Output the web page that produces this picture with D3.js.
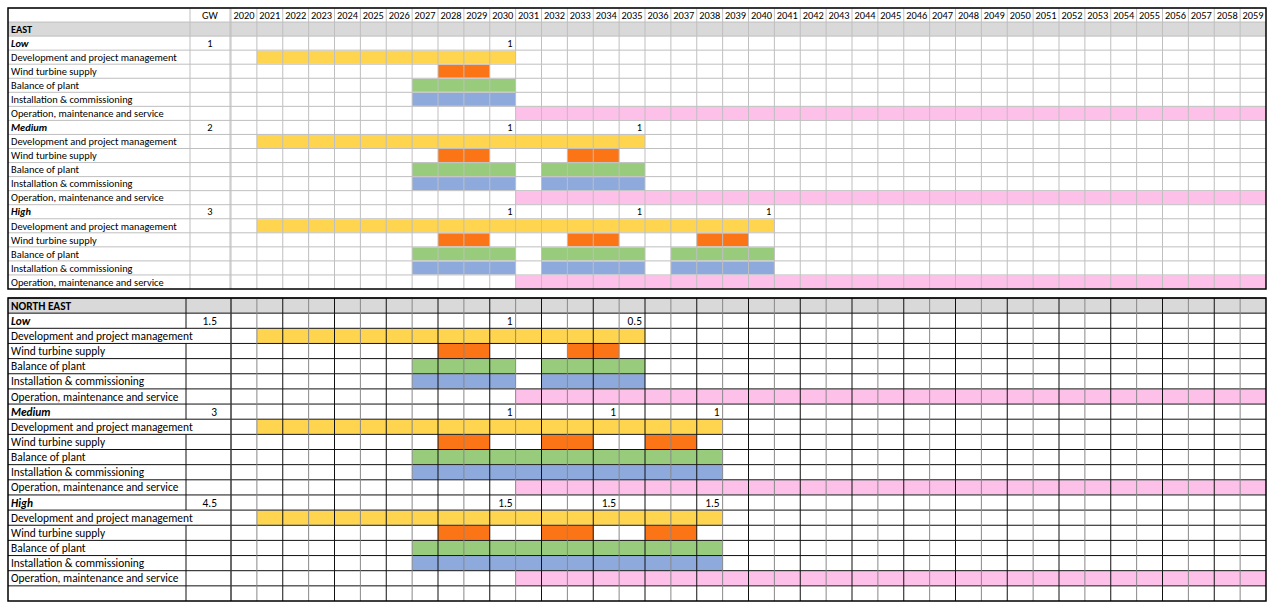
<!DOCTYPE html>
<html><head><meta charset="utf-8">
<script src="https://cdn.jsdelivr.net/npm/d3@7"></script>
<style>body{margin:0;background:#fff}svg text{font-family:Carlito,"Liberation Sans Narrow","Open Sans",sans-serif;fill:#000}</style>
</head><body><svg id="c" width="1274" height="611"></svg>
<script>
// years on the axis
var years = d3.range(2020, 2060);
var activities = ["Development and project management", "Wind turbine supply", "Balance of plant", "Installation & commissioning", "Operation, maintenance and service"];
var actColors = ["#ffd54f", "#fb7416", "#98cc7c", "#8eaadc", "#fdc0e9"];

// [start, end] year spans per activity, per scenario
var eastScen = [
  {name:"Low", gw:"1", marks:[[2030,"1"]],
   spans:[[[2021,2030]],[[2028,2029]],[[2027,2030]],[[2027,2030]],[[2031,2059]]]},
  {name:"Medium", gw:"2", marks:[[2030,"1"],[2035,"1"]],
   spans:[[[2021,2035]],[[2028,2029],[2033,2034]],[[2027,2030],[2032,2035]],[[2027,2030],[2032,2035]],[[2031,2059]]]},
  {name:"High", gw:"3", marks:[[2030,"1"],[2035,"1"],[2040,"1"]],
   spans:[[[2021,2040]],[[2028,2029],[2033,2034],[2038,2039]],[[2027,2030],[2032,2035],[2037,2040]],[[2027,2030],[2032,2035],[2037,2040]],[[2031,2059]]]}
];
var northEastScen = [
  {name:"Low", gw:"1.5", marks:[[2030,"1"],[2035,"0.5"]],
   spans:[[[2021,2035]],[[2028,2029],[2033,2034]],[[2027,2030],[2032,2035]],[[2027,2030],[2032,2035]],[[2031,2059]]]},
  {name:"Medium", gw:"3", marks:[[2030,"1"],[2034,"1"],[2038,"1"]],
   spans:[[[2021,2038]],[[2028,2029],[2032,2033],[2036,2037]],[[2027,2038]],[[2027,2038]],[[2031,2059]]]},
  {name:"High", gw:"4.5", marks:[[2030,"1.5"],[2034,"1.5"],[2038,"1.5"]],
   spans:[[[2021,2038]],[[2028,2029],[2032,2033],[2036,2037]],[[2027,2038]],[[2027,2038]],[[2031,2059]]]}
];

var svg = d3.select("#c");
var x = d3.scaleBand().domain(years).range([231, 1266]);

function table(opt) {
  var g = svg.append("g").style("font-size", opt.fs + "px");
  var rows = [];
  if (opt.header) rows.push({type:"head"});
  rows.push({type:"region", label:opt.region});
  opt.scen.forEach(function (s) {
    rows.push({type:"scen", label:s.name, s:s});
    activities.forEach(function (a, i) { rows.push({type:"act", label:a, i:i, s:s}); });
  });
  if (!opt.header) rows.push({type:"blank"});
  var y = d3.scaleBand().domain(d3.range(rows.length)).range([opt.top, opt.bottom]);
  var h = y.bandwidth();

  rows.forEach(function (r, k) {
    var yy = y(k);
    if (r.type == "region")
      g.append("rect").attr("x", 8).attr("y", yy).attr("width", 1258).attr("height", h).attr("fill", "#d9d9d9");
    if (r.type == "act") {
      r.s.spans[r.i].forEach(function (sp) {
        g.append("rect").attr("x", x(sp[0])).attr("y", yy + 0.5)
          .attr("width", x(sp[1]) + x.bandwidth() - x(sp[0])).attr("height", h - 1)
          .attr("fill", actColors[r.i]);
      });
    }
  });

  // grid lines
  rows.forEach(function (r, k) {
    g.append("line").attr("x1", 8).attr("x2", 1266).attr("y1", y(k)).attr("y2", y(k))
      .attr("stroke", opt.line).attr("stroke-width", 1);
  });
  var vx = [opt.c1, opt.c2].concat(years.map(function (d) { return x(d); }));
  vx.forEach(function (v, j) {
    rows.forEach(function (r, k) {
      if (j == 0 && r.type == "act" && r.i == 0 && opt.spill) return;
      g.append("line").attr("x1", v).attr("x2", v).attr("y1", y(k)).attr("y2", y(k) + h)
        .attr("stroke", (j % 2 && opt.alt) ? "#888" : opt.line).attr("stroke-width", 1);
    });
  });
  g.append("rect").attr("x", 8).attr("y", opt.top).attr("width", 1258).attr("height", opt.bottom - opt.top)
    .attr("fill", "none").attr("stroke", "#000").attr("stroke-width", 1.5);

  // texts
  rows.forEach(function (r, k) {
    var ty = y(k) + h / 2 + opt.fs * 0.36;
    if (r.type == "head") {
      g.append("text").attr("x", (opt.c1 + opt.c2) / 2).attr("y", ty).attr("text-anchor", "middle").text("GW");
      years.forEach(function (d) {
        g.append("text").attr("x", x(d) + x.bandwidth() / 2).attr("y", ty).attr("text-anchor", "middle").text(d);
      });
    }
    if (r.type == "region") g.append("text").attr("x", 11).attr("y", ty).attr("font-weight", "bold").text(r.label);
    if (r.type == "scen") {
      g.append("text").attr("x", 11).attr("y", ty).attr("font-weight", "bold").attr("font-style", "italic").text(r.label);
      g.append("text").attr("x", opt.gwX).attr("y", ty).attr("text-anchor", opt.gwAnchor).text(r.s.gw);
      r.s.marks.forEach(function (m) {
        g.append("text").attr("x", x(m[0]) + x.bandwidth() - 3).attr("y", ty).attr("text-anchor", "end").text(m[1]);
      });
    }
    if (r.type == "act") g.append("text").attr("x", 11).attr("y", ty).text(r.label);
  });
}

table({header:true, region:"EAST", scen:eastScen, top:8, bottom:289, line:"#bfbfbf", fs:10.4,
       c1:190, c2:230, gwX:210, gwAnchor:"middle"});
table({header:false, region:"NORTH EAST", scen:northEastScen, top:298, bottom:601, line:"#111", alt:true, fs:11.4,
       c1:186, c2:231, gwX:217, gwAnchor:"end", spill:true});
</script></body></html>
